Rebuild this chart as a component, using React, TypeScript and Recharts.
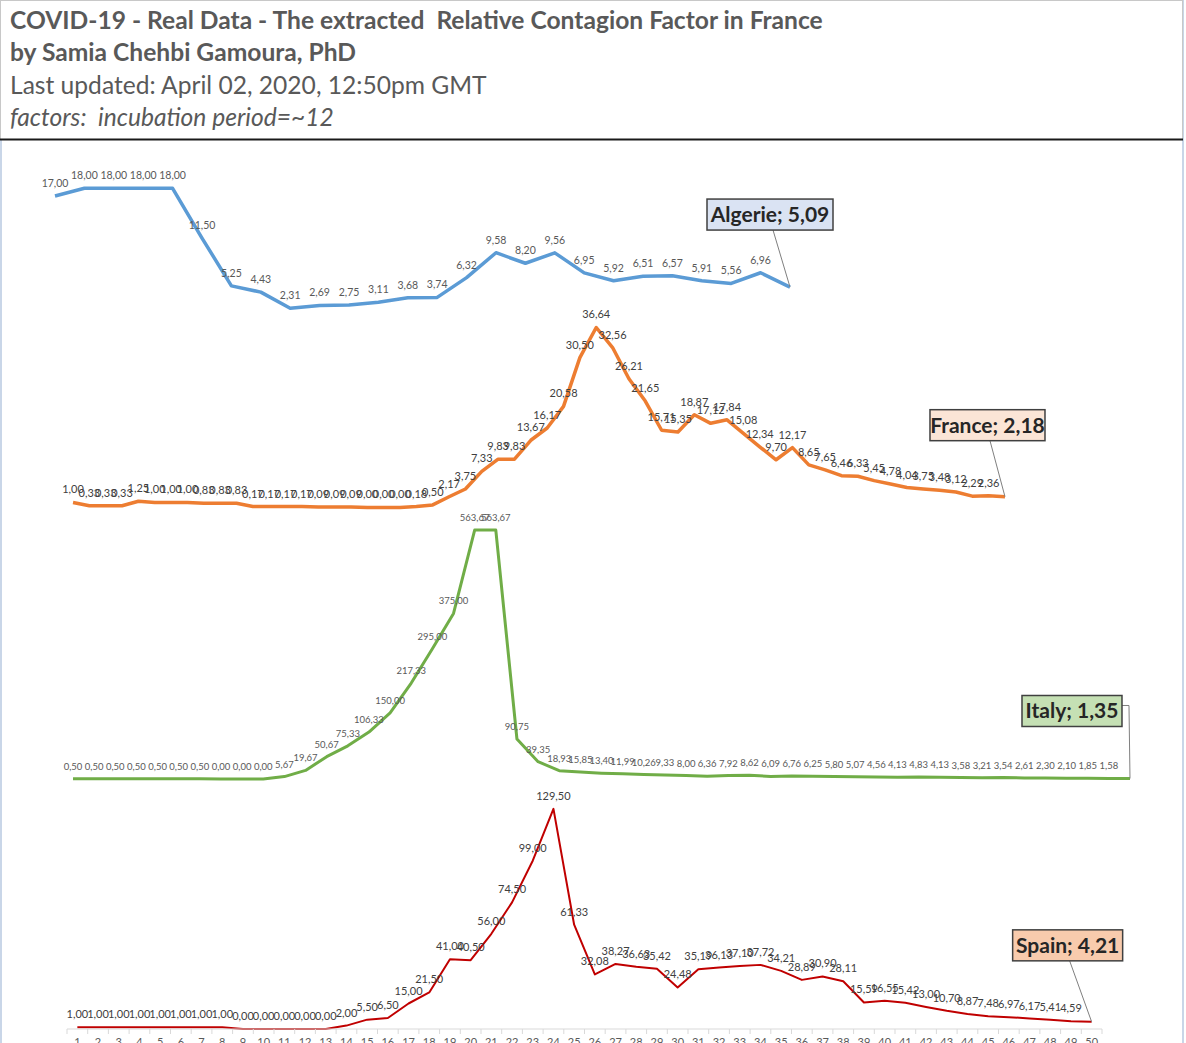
import React from "react";
import { LineChart, Line, XAxis, YAxis } from "recharts";

// day numbers shown under the bottom panel
const days = [
  1, 2, 3, 4, 5, 6, 7, 8, 9, 10, 11, 12, 13, 14, 15, 16, 17, 18, 19, 20, 21, 22, 23, 24, 25,
  26, 27, 28, 29, 30, 31, 32, 33, 34, 35, 36, 37, 38, 39, 40, 41, 42, 43, 44, 45, 46, 47, 48, 49, 50,
];

const algerie = [
  17, 18, 18, 18, 18, 11.5, 5.25, 4.43, 2.31, 2.69, 2.75, 3.11, 3.68, 3.74, 6.32, 9.58, 8.2, 9.56,
  6.95, 5.92, 6.51, 6.57, 5.91, 5.56, 6.96, 5.09,
];

const france = [
  1, 0.33, 0.33, 0.33, 1.25, 1, 1, 1, 0.83, 0.83, 0.83, 0.17, 0.17, 0.17, 0.17, 0.09, 0.09, 0.09,
  0, 0, 0, 0.18, 0.5, 2.17, 3.75, 7.33, 9.83, 9.83, 13.67, 16.17, 20.58, 30.5, 36.64, 32.56, 26.21,
  21.65, 15.71, 15.35, 18.87, 17.12, 17.84, 15.08, 12.34, 9.7, 12.17, 8.65, 7.65, 6.46, 6.33, 5.45,
  4.78, 4.04, 3.75, 3.48, 3.12, 2.29, 2.36, 2.18,
];

const italy = [
  0.5, 0.5, 0.5, 0.5, 0.5, 0.5, 0.5, 0, 0, 0, 5.67, 19.67, 50.67, 75.33, 106.33, 150, 217.33, 295,
  375, 563.67, 563.67, 90.75, 39.35, 18.93, 15.85, 13.4, 11.99, 10.26, 9.33, 8, 6.36, 7.92, 8.62,
  6.09, 6.76, 6.25, 5.8, 5.07, 4.56, 4.13, 4.83, 4.13, 3.58, 3.21, 3.54, 2.61, 2.3, 2.1, 1.85, 1.58,
  1.35,
];

const spain = [
  1, 1, 1, 1, 1, 1, 1, 1, 0, 0, 0, 0, 0, 2, 5.5, 6.5, 15, 21.5, 41, 40.5, 56, 74.5, 99, 129.5,
  61.33, 32.08, 38.27, 36.63, 35.42, 24.48, 35.19, 36.13, 37.1, 37.72, 34.21, 28.89, 30.9, 28.11,
  15.59, 16.55, 15.42, 13, 10.7, 8.87, 7.48, 6.97, 6.17, 5.41, 4.59, 4.21,
];

const fmt = (v: number) => v.toFixed(2).replace(".", ",");

const FONT = "Lato, 'Open Sans', sans-serif";
const M = { top: 110, right: 70, bottom: 20, left: 40 };

interface CalloutCfg {
  text: string;
  fill: string;
  w: number;
  dx: number; // box left, relative to last point
  dy: number; // box top, relative to last point
  lx: number; // where the leader leaves the box
  elbow?: boolean;
}

interface PanelProps {
  values: number[];
  color: string;
  stroke: number;
  labelColor: string;
  labelSize: number;
  xDomain: [number, number];
  yMax: number;
  plot: { left: number; top: number; width: number; height: number };
  callout: CalloutCfg;
  axis?: boolean;
}

function Panel(p: PanelProps) {
  const data = p.values.map((v, i) => ({ day: i + 1, value: v }));
  const axisH = p.axis ? 30 : 0;
  const w = p.plot.width + M.left + M.right;
  const h = p.plot.height + M.top + M.bottom + axisH;
  const last = p.values.length - 1;
  const step = p.plot.width / (p.xDomain[1] - p.xDomain[0]);

  // eslint-disable-next-line @typescript-eslint/no-explicit-any
  const renderDot = (d: any) => {
    const { cx, cy, index } = d;
    const value = d.payload?.value;
    if (index === last) {
      const c = p.callout;
      const bx = cx + c.dx;
      const by = cy + c.dy;
      const bh = 31;
      return (
        <g key={`d-${index}`}>
          {c.elbow ? (
            <polyline
              points={`${bx + c.w},${by + 10} ${cx - 1},${by + 10} ${cx},${cy}`}
              fill="none"
              stroke="#7f7f7f"
              strokeWidth={1}
            />
          ) : (
            <line x1={bx + c.lx} y1={by + bh} x2={cx} y2={cy} stroke="#7f7f7f" strokeWidth={1} />
          )}
          <rect x={bx} y={by} width={c.w} height={bh} fill={c.fill} stroke="#404040" strokeWidth={1.5} />
          <text
            x={bx + c.w / 2}
            y={by + 23}
            textAnchor="middle"
            fontFamily={FONT}
            fontWeight={700}
            fontSize={21}
            fill="#262626"
          >
            {c.text}
          </text>
        </g>
      );
    }
    return (
      <text
        key={`d-${index}`}
        x={cx}
        y={cy - 9}
        textAnchor="middle"
        fontFamily={FONT}
        fontSize={p.labelSize}
        fill={p.labelColor}
      >
        {fmt(value)}
      </text>
    );
  };

  // eslint-disable-next-line @typescript-eslint/no-explicit-any
  const DayTick = (t: any) => {
    const { x, y, payload } = t;
    return (
      <g>
        <line x1={x - step / 2} x2={x - step / 2} y1={y} y2={y + 5} stroke="#d9d9d9" />
        {payload.value === days[days.length - 1] && (
          <line x1={x + step / 2} x2={x + step / 2} y1={y} y2={y + 5} stroke="#d9d9d9" />
        )}
        <text x={x} y={y + 17} textAnchor="middle" fontFamily={FONT} fontSize={11} fill="#595959">
          {payload.value}
        </text>
      </g>
    );
  };

  return (
    <div style={{ position: "absolute", left: p.plot.left - M.left, top: p.plot.top - M.top }}>
      <LineChart width={w} height={h} data={data} margin={M}>
        {p.axis ? (
          <XAxis
            dataKey="day"
            type="number"
            domain={p.xDomain}
            ticks={days}
            interval={0}
            height={axisH}
            tickSize={0}
            tickMargin={0}
            tickLine={false}
            axisLine={{ stroke: "#d9d9d9" }}
            tick={<DayTick />}
          />
        ) : (
          <XAxis dataKey="day" type="number" domain={p.xDomain} hide />
        )}
        <YAxis hide domain={[0, p.yMax]} />
        <Line
          type="linear"
          dataKey="value"
          stroke={p.color}
          strokeWidth={p.stroke}
          strokeLinejoin="round"
          dot={renderDot}
          activeDot={false}
          isAnimationActive={false}
        />
      </LineChart>
    </div>
  );
}

function Title() {
  const t = { fontFamily: FONT, fill: "#595959", style: { whiteSpace: "pre" as const } };
  return (
    <svg width={1186} height={141} style={{ position: "absolute", left: 0, top: 0 }}>
      <rect x={0.5} y={0.5} width={1182} height={139} fill="#fff" stroke="#c8c8c8" />
      <line x1={0} x2={1183} y1={139.5} y2={139.5} stroke="#1a1a1a" strokeWidth={2} />
      <text x={10} y={29} fontSize={24.6} fontWeight={700} {...t}>
        {"COVID-19 - Real Data - The extracted  Relative Contagion Factor in France"}
      </text>
      <text x={10} y={61} fontSize={24.6} fontWeight={700} {...t}>
        by Samia Chehbi Gamoura, PhD
      </text>
      <text x={10} y={94} fontSize={24.6} {...t}>
        Last updated: April 02, 2020, 12:50pm GMT
      </text>
      <text x={10} y={126} fontSize={24.6} fontStyle="italic" {...t}>
        {"factors:  incubation period=~12"}
      </text>
    </svg>
  );
}

export default function App() {
  return (
    <div
      style={{
        position: "absolute",
        left: 0,
        top: 0,
        width: 1186,
        height: 1043,
        background: "#fff",
        overflow: "hidden",
      }}
    >
      <div
        style={{
          position: "absolute",
          left: 0,
          top: 0,
          width: 1184,
          height: 1043,
          borderLeft: "2px solid #c9d6e8",
          borderRight: "2px solid #c9d6e8",
          boxSizing: "border-box",
        }}
      />
      <Title />
      <Panel
        values={algerie}
        color="#5b9bd5"
        stroke={3.5}
        labelColor="#595959"
        labelSize={10.5}
        xDomain={[1, 26]}
        yMax={20}
        plot={{ left: 55, top: 172.7, width: 735, height: 153 }}
        callout={{ text: "Algerie; 5,09", fill: "#dae3f3", w: 126, dx: -83, dy: -88, lx: 66 }}
      />
      <Panel
        values={france}
        color="#ed7d31"
        stroke={3.5}
        labelColor="#404040"
        labelSize={11}
        xDomain={[1, 58]}
        yMax={40}
        plot={{ left: 73, top: 310.6, width: 932, height: 196.4 }}
        callout={{ text: "France; 2,18", fill: "#fbe5d6", w: 115, dx: -75, dy: -87, lx: 60 }}
      />
      <Panel
        values={italy}
        color="#70ad47"
        stroke={3}
        labelColor="#595959"
        labelSize={9.5}
        xDomain={[1, 51]}
        yMax={600}
        plot={{ left: 73, top: 513.9, width: 1057, height: 265.1 }}
        callout={{ text: "Italy; 1,35", fill: "#c5e0b4", w: 100, dx: -108, dy: -83, lx: 0, elbow: true }}
      />
      <Panel
        values={spain}
        color="#c00000"
        stroke={2}
        labelColor="#404040"
        labelSize={11}
        xDomain={[0.5, 50.5]}
        yMax={140}
        plot={{ left: 66.6, top: 791, width: 1035, height: 238 }}
        callout={{ text: "Spain; 4,21", fill: "#f8cbad", w: 110, dx: -79, dy: -92, lx: 57 }}
        axis
      />
    </div>
  );
}
